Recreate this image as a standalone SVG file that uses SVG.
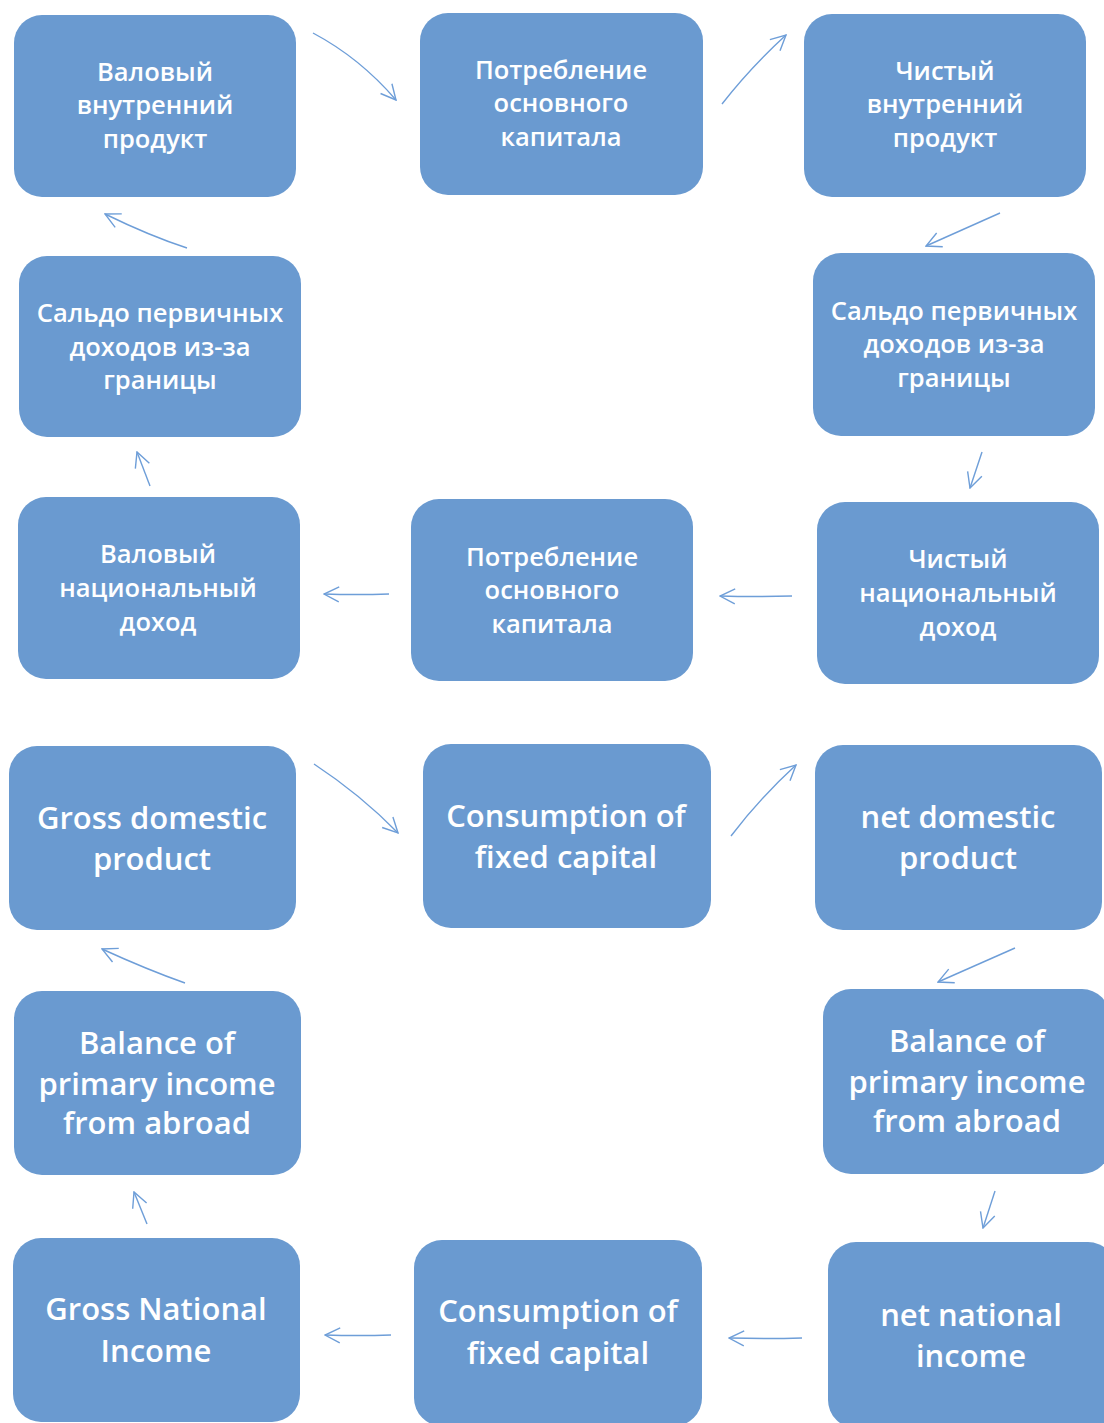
<svg xmlns="http://www.w3.org/2000/svg" width="1104" height="1423" viewBox="0 0 1104 1423">
<style>
.box{fill:#6A9AD0;}
.ru{font-family:"Open Sans","Noto Sans","DejaVu Sans",sans-serif;font-size:25.5px;font-weight:600;fill:#ffffff;text-anchor:middle;}
.en{font-family:"Open Sans","Noto Sans","DejaVu Sans",sans-serif;font-size:31px;font-weight:600;fill:#ffffff;text-anchor:middle;}
.arr{fill:none;stroke:#6E9ED8;stroke-width:1.4;marker-end:url(#ah);}
</style>
<defs>
<marker id="ah" viewBox="0 0 18 18" refX="17" refY="9" markerWidth="18" markerHeight="18" markerUnits="userSpaceOnUse" orient="auto">
<path d="M2,1.5 L17,9 L2,16.5" fill="none" stroke="#6E9ED8" stroke-width="1.4"/>
</marker>
</defs>
<rect width="1104" height="1423" fill="#ffffff"/>

<g id="n1"><rect class="box" x="14" y="15" width="282" height="182" rx="28"/>
<text class="ru" x="155" y="81">Валовый</text><text class="ru" x="155" y="114">внутренний</text><text class="ru" x="155" y="148">продукт</text></g>
<g id="n2"><rect class="box" x="420" y="13" width="283" height="182" rx="28"/>
<text class="ru" x="561" y="79">Потребление</text><text class="ru" x="561" y="112">основного</text><text class="ru" x="561" y="146">капитала</text></g>
<g id="n3"><rect class="box" x="804" y="14" width="282" height="183" rx="28"/>
<text class="ru" x="945" y="80">Чистый</text><text class="ru" x="945" y="113">внутренний</text><text class="ru" x="945" y="147">продукт</text></g>
<g id="n4"><rect class="box" x="19" y="256" width="282" height="181" rx="28"/>
<text class="ru" x="160" y="322">Сальдо первичных</text><text class="ru" x="160" y="356">доходов из-за</text><text class="ru" x="160" y="389">границы</text></g>
<g id="n5"><rect class="box" x="813" y="253" width="282" height="183" rx="28"/>
<text class="ru" x="954" y="320">Сальдо первичных</text><text class="ru" x="954" y="353">доходов из-за</text><text class="ru" x="954" y="387">границы</text></g>
<g id="n6"><rect class="box" x="18" y="497" width="282" height="182" rx="28"/>
<text class="ru" x="158" y="563">Валовый</text><text class="ru" x="158" y="597">национальный</text><text class="ru" x="158" y="631">доход</text></g>
<g id="n7"><rect class="box" x="411" y="499" width="282" height="182" rx="28"/>
<text class="ru" x="552" y="566">Потребление</text><text class="ru" x="552" y="599">основного</text><text class="ru" x="552" y="633">капитала</text></g>
<g id="n8"><rect class="box" x="817" y="502" width="282" height="182" rx="28"/>
<text class="ru" x="958" y="568">Чистый</text><text class="ru" x="958" y="602">национальный</text><text class="ru" x="958" y="636">доход</text></g>

<g id="n9"><rect class="box" x="9" y="746" width="287" height="184" rx="28"/>
<text class="en" x="152" y="829">Gross domestic</text><text class="en" x="152" y="870">product</text></g>
<g id="n10"><rect class="box" x="423" y="744" width="288" height="184" rx="28"/>
<text class="en" x="566" y="827">Consumption of</text><text class="en" x="566" y="868">fixed capital</text></g>
<g id="n11"><rect class="box" x="815" y="745" width="287" height="185" rx="28"/>
<text class="en" x="958" y="828">net domestic</text><text class="en" x="958" y="869">product</text></g>
<g id="n12"><rect class="box" x="14" y="991" width="287" height="184" rx="28"/>
<text class="en" x="157" y="1054">Balance of</text><text class="en" x="157" y="1095">primary income</text><text class="en" x="157" y="1134">from abroad</text></g>
<g id="n13"><rect class="box" x="823" y="989" width="287" height="185" rx="28"/>
<text class="en" x="967" y="1052">Balance of</text><text class="en" x="967" y="1093">primary income</text><text class="en" x="967" y="1132">from abroad</text></g>
<g id="n14"><rect class="box" x="13" y="1238" width="287" height="184" rx="28"/>
<text class="en" x="156" y="1320">Gross National</text><text class="en" x="156" y="1362">Income</text></g>
<g id="n15"><rect class="box" x="414" y="1240" width="288" height="186" rx="28"/>
<text class="en" x="558" y="1322">Consumption of</text><text class="en" x="558" y="1364">fixed capital</text></g>
<g id="n16"><rect class="box" x="828" y="1242" width="288" height="186" rx="28"/>
<text class="en" x="971" y="1326">net national</text><text class="en" x="971" y="1367">income</text></g>

<g id="connectors">
<path class="arr" d="M313,33 Q360,58 396,100"/>
<path class="arr" d="M722,104 Q750,68 786,35"/>
<path class="arr" d="M1000,213 L926,246"/>
<path class="arr" d="M982,452 L970,488"/>
<path class="arr" d="M792,596 Q756,597 720,596"/>
<path class="arr" d="M389,594 Q356,595 324,594"/>
<path class="arr" d="M150,486 L137,452"/>
<path class="arr" d="M187,248 Q150,236 105,214"/>
<path class="arr" d="M314,764 Q361,795 398,833"/>
<path class="arr" d="M731,836 Q760,798 796,765"/>
<path class="arr" d="M1015,948 L938,982"/>
<path class="arr" d="M995,1191 L983,1228"/>
<path class="arr" d="M802,1338 Q766,1339 729,1338"/>
<path class="arr" d="M391,1335 Q358,1336 325,1335"/>
<path class="arr" d="M147,1224 L134,1192"/>
<path class="arr" d="M185,983 Q148,970 102,949"/>
</g>
</svg>
